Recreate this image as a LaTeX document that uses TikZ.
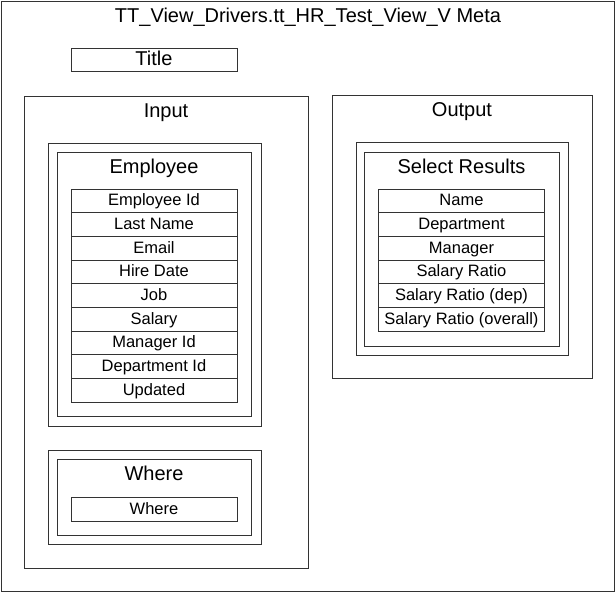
\documentclass[tikz,border=0pt]{standalone}
\usepackage{fontspec}
\setmainfont{Liberation Sans}

\tikzset{
  frame/.style={draw=black!80, line width=1pt},
  field/.style={draw=black!80, line width=1pt, minimum width=166pt, minimum height=23.67pt,
    inner sep=0pt, text height=10pt, text depth=0pt, font=\fontsize{16.5}{18}\selectfont},
  heading/.style={anchor=base, inner sep=0pt, font=\fontsize{20}{24}\selectfont},
}

\begin{document}
\begin{tikzpicture}[x=1pt, y=-1pt]
  \useasboundingbox (0,0) rectangle (616,592);

  % Draw the outer frame and its caption
  \draw[frame] (1,1) rectangle (614,591);
  \node[heading] (caption) at (308,22.5) {TT\_View\_Drivers.tt\_HR\_Test\_View\_V Meta};

  % Title box
  \node[field, minimum height=23pt, text height=12.5pt, font=\fontsize{20}{24}\selectfont] (title) at (154,59.5) {Title};

  % Input block
  \draw[frame] (24,96) rectangle (308,568);
  \node[heading] (input) at (166,117) {Input};

  % Employee table
  \draw[frame] (48,143) rectangle (261,426);
  \draw[frame] (57,152) rectangle (251,416);
  \node[heading] (employee) at (154,173) {Employee};
  \foreach \i/\field in {1/Employee Id, 2/Last Name, 3/Email, 4/Hire Date, 5/Job,
                         6/Salary, 7/Manager Id, 8/Department Id, 9/Updated} {
    \node[field] (employee-\i) at (154,{189+23.67*(\i-0.5)}) {\field};
  }

  % Where table
  \draw[frame] (48,450) rectangle (261,544);
  \draw[frame] (57,459) rectangle (251,535);
  \node[heading] (where) at (154,480) {Where};
  \node[field, minimum height=24pt] (where-1) at (154,509) {Where};

  % Output block
  \draw[frame] (332,95) rectangle (592,378);
  \node[heading] (output) at (462,116) {Output};

  % Select results table
  \draw[frame] (356,142) rectangle (568,355);
  \draw[frame] (364,152) rectangle (559,346);
  \node[heading] (select) at (461.5,173) {Select Results};
  \foreach \i/\field in {1/Name, 2/Department, 3/Manager, 4/Salary Ratio,
                         5/Salary Ratio (dep), 6/Salary Ratio (overall)} {
    \node[field] (select-\i) at (461.5,{189+23.67*(\i-0.5)}) {\field};
  }
\end{tikzpicture}
\end{document}
